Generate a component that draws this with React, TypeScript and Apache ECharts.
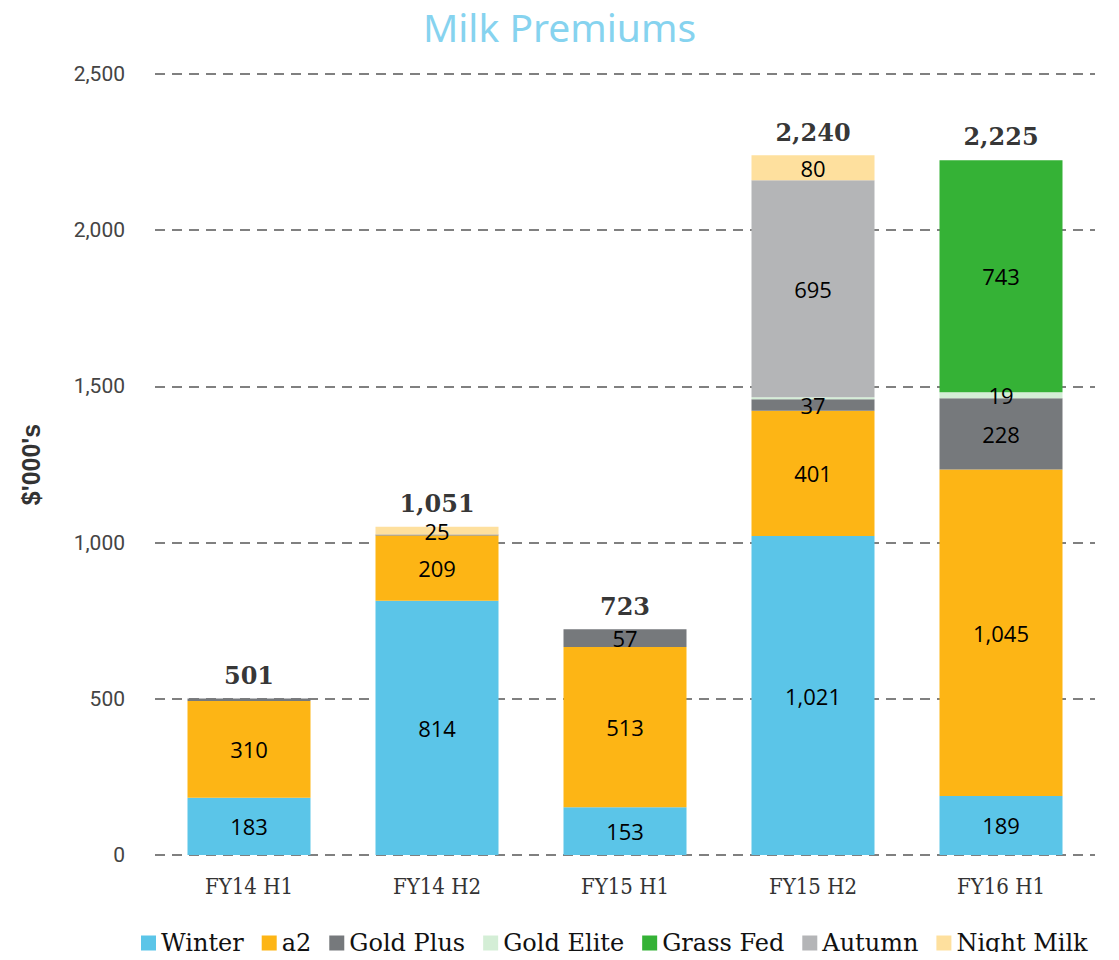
import React, { useEffect, useRef } from "react";
import * as echarts from "echarts";

const categories = ["FY14 H1", "FY14 H2", "FY15 H1", "FY15 H2", "FY16 H1"];
const winter = [183, 814, 153, 1021, 189];
const a2 = [310, 209, 513, 401, 1045];
const goldPlus = [8, 3, 57, 37, 228];
const goldElite = [0, 0, 0, 6, 19];
const grassFed = [0, 0, 0, 0, 743];
const autumn = [0, 0, 0, 695, 0];
const nightMilk = [0, 25, 0, 80, 0];
const totals = [501, 1051, 723, 2240, 2225];
const yTicks = [0, 500, 1000, 1500, 2000, 2500];

const seriesDefs = [
  { name: "Winter", data: winter, color: "#5bc5e8" },
  { name: "a2", data: a2, color: "#fdb515" },
  { name: "Gold Plus", data: goldPlus, color: "#76797c" },
  { name: "Gold Elite", data: goldElite, color: "#d4eed6" },
  { name: "Grass Fed", data: grassFed, color: "#35b236" },
  { name: "Autumn", data: autumn, color: "#b4b5b7" },
  { name: "Night Milk", data: nightMilk, color: "#fee09e" },
];

const fmt = (v: number) => v.toLocaleString("en-US");

export default function App() {
  const ref = useRef<HTMLDivElement>(null);
  useEffect(() => {
    const chart = echarts.init(ref.current!, null, { renderer: "svg" });
    const slab = "'DejaVu Serif', serif";
    chart.setOption({
      animation: false,
      backgroundColor: "#ffffff",
      title: {
        text: "Milk Premiums",
        left: "center",
        top: 2,
        textStyle: { color: "#86d3ef", fontSize: 39, fontWeight: "normal", fontFamily: "'Noto Sans', Lato, sans-serif" },
      },
      legend: {
        data: seriesDefs.map((s) => s.name),
        bottom: 0,
        left: 136,
        itemWidth: 15,
        itemHeight: 15,
        itemGap: 18,
        icon: "rect",
        textStyle: { fontFamily: slab, fontSize: 24, color: "#111" },
      },
      grid: { left: 155, right: 24, top: 74, bottom: 105 },
      xAxis: {
        type: "category",
        data: categories,
        axisLine: { show: false },
        axisTick: { show: false },
        axisLabel: { fontFamily: "'DejaVu Serif Condensed', 'DejaVu Serif', serif", fontSize: 22, color: "#333", margin: 20 },
      },
      yAxis: {
        type: "value",
        min: yTicks[0],
        max: yTicks[yTicks.length - 1],
        interval: 500,
        name: "$'000's",
        nameLocation: "middle",
        nameGap: 112,
        nameTextStyle: { fontFamily: "'Liberation Sans', Arial, sans-serif", fontWeight: "bold", fontSize: 25, color: "#333" },
        axisLine: { show: false },
        axisTick: { show: false },
        axisLabel: {
          fontFamily: "Roboto, 'Liberation Sans', sans-serif",
          fontSize: 21,
          color: "#444",
          margin: 30,
          formatter: (v: number) => fmt(v),
        },
        splitLine: { lineStyle: { color: "#808080", width: 2, type: [10, 7] } },
      },
      series: [
        ...seriesDefs.map((s) => ({
          name: s.name,
          type: "bar",
          stack: "total",
          barWidth: 123,
          data: s.data,
          itemStyle: { color: s.color },
          label: {
            show: true,
            position: "inside",
            color: "#000",
            fontSize: 22,
            fontFamily: "'Open Sans', 'Noto Sans', sans-serif",
            formatter: (p: any) => (p.value >= 10 ? fmt(p.value) : ""),
          },
        })),
        {
          name: "Total",
          type: "scatter",
          data: totals,
          symbolSize: 0,
          silent: true,
          label: {
            show: true,
            position: "top",
            distance: 11,
            color: "#000",
            fontSize: 24,
            fontWeight: "bold",
            fontFamily: slab,
            formatter: (p: any) => fmt(p.value),
          },
        },
      ],
    });
    return () => chart.dispose();
  }, []);
  return <div ref={ref} style={{ width: 1119, height: 960, margin: -8 }} />;
}
